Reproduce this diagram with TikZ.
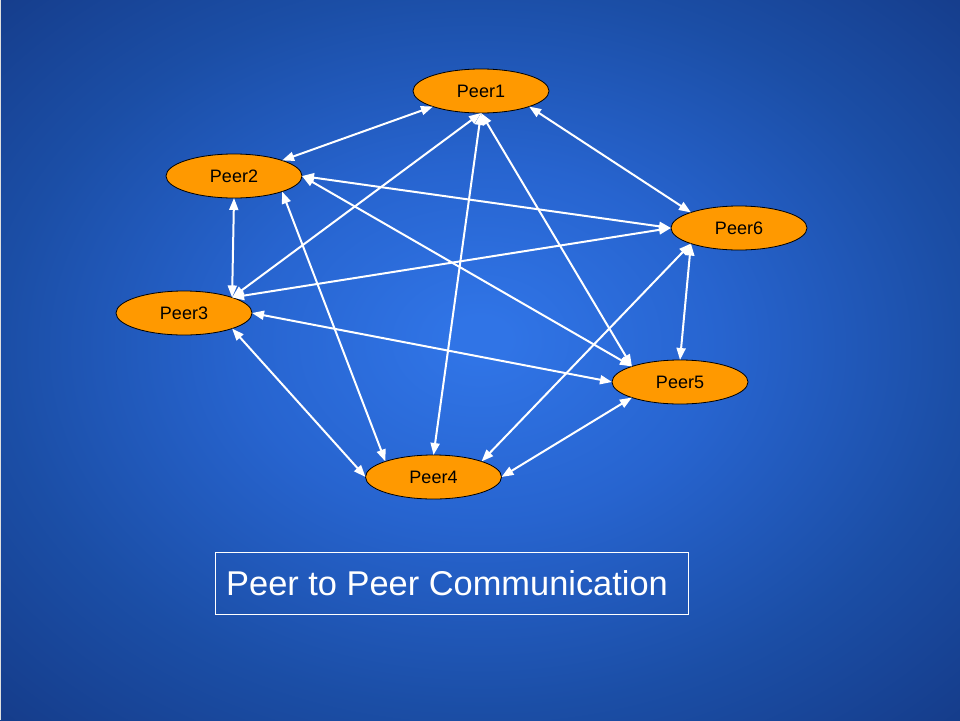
\documentclass[tikz,border=0pt]{standalone}
\usepackage{fontspec}
\setmainfont{Liberation Sans}
\usetikzlibrary{arrows.meta,shapes.geometric}
\definecolor{bgin}{RGB}{48,116,230}
\definecolor{bgq}{RGB}{39,100,207}
\definecolor{bgmid}{RGB}{27,78,166}
\definecolor{bgout}{RGB}{21,60,138}
\definecolor{peerorange}{RGB}{255,153,0}
\pgfdeclareradialshading{bgshade}{\pgfpoint{0bp}{1.5bp}}{color(0bp)=(bgin); color(1.5bp)=(bgin); color(12.5bp)=(bgq); color(25bp)=(bgmid); color(36bp)=(bgout); color(50bp)=(bgout)}
\tikzset{
  peer/.style={ellipse, draw=black, line width=0.8pt, fill=peerorange, minimum width=136pt, minimum height=44pt, inner sep=0pt, outer sep=0pt, font=\fontsize{18}{20}\selectfont, text=black},
  link/.style={draw=white, line width=2pt, {Triangle[length=12pt,width=9pt]}-{Triangle[length=12pt,width=9pt]}},
  titlebox/.style={draw=white, line width=1pt, minimum width=473pt, minimum height=62pt, inner sep=0pt},
  titletxt/.style={text=white, font=\fontsize{34.4}{40}\selectfont, anchor=base west, inner sep=0pt}
}
\begin{document}
\begin{tikzpicture}[x=1pt,y=-1pt]
\useasboundingbox (0,0) rectangle (960,720);
\shade[shading=bgshade] (0,0) rectangle (960,720);
\fill[white!75!gray] (0,0) rectangle (1.2,720);

\node[peer] (p1) at (481,91) {Peer1};
\node[peer] (p2) at (234,176) {Peer2};
\node[peer] (p3) at (184,313) {Peer3};
\node[peer] (p4) at (433.5,477) {Peer4};
\node[peer] (p5) at (680,382) {Peer5};
\node[peer] (p6) at (739,228) {Peer6};

\draw[link] (p1.south west) -- (p2.north east);
\draw[link] (p1.south) -- (p3.north east);
\draw[link] (p1.south) -- (p4.north);
\draw[link] (p1.south) -- (p5.north west);
\draw[link] (p1.south east) -- (p6.north west);
\draw[link] (p2.south) -- (p3.north east);
\draw[link] (p2.south east) -- (p4.north west);
\draw[link] (p2.east) -- (p5.north west);
\draw[link] (p2.east) -- (p6.west);
\draw[link] (p3.south east) -- (p4.west);
\draw[link] (p3.east) -- (p5.west);
\draw[link] (p3.north east) -- (p6.west);
\draw[link] (p4.east) -- (p5.south west);
\draw[link] (p4.north east) -- (p6.south west);
\draw[link] (p5.north) -- (p6.south west);

\node[titlebox] (title) at (452,583) {};
\node[titletxt] (titletext) at (226,595) {Peer to Peer Communication};
\end{tikzpicture}
\end{document}
